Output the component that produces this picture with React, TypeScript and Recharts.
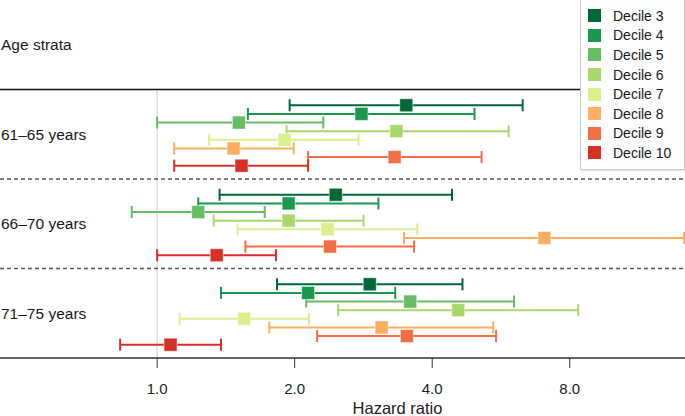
import {
  ComposedChart,
  Scatter,
  ErrorBar,
  XAxis,
  YAxis,
  ReferenceLine,
  Legend,
} from "recharts";

const STRATA = ["61–65 years", "66–70 years", "71–75 years"];
const DECILES = ["Decile 3", "Decile 4", "Decile 5", "Decile 6", "Decile 7", "Decile 8", "Decile 9", "Decile 10"];
const COLORS = ["#006837", "#1a9850", "#66bd63", "#a6d96a", "#d9ef8b", "#fdae61", "#f46d43", "#d73027"];

// hazard ratio + 95% CI per decile, one set per age stratum
const HR_61_65 = [3.51, 2.8, 1.51, 3.34, 1.9, 1.47, 3.31, 1.53];
const LO_61_65 = [1.95, 1.58, 1.0, 1.92, 1.3, 1.09, 2.14, 1.09];
const HI_61_65 = [6.31, 4.95, 2.31, 5.88, 2.76, 1.99, 5.13, 2.14];

const HR_66_70 = [2.46, 1.94, 1.23, 1.94, 2.36, 7.04, 2.39, 1.35];
const LO_66_70 = [1.37, 1.23, 0.88, 1.33, 1.5, 3.47, 1.56, 1.0];
const HI_66_70 = [4.42, 3.05, 1.72, 2.83, 3.71, 14.24, 3.65, 1.82];

const HR_71_75 = [2.92, 2.14, 3.58, 4.56, 1.55, 3.1, 3.52, 1.07];
const LO_71_75 = [1.83, 1.38, 2.12, 2.49, 1.12, 1.76, 2.24, 0.83];
const HI_71_75 = [4.66, 3.32, 6.04, 8.35, 2.15, 5.44, 5.52, 1.38];

const X_TICKS = [1, 2, 4, 8];

const HR = [HR_61_65, HR_66_70, HR_71_75];
const LO = [LO_61_65, LO_66_70, LO_71_75];
const HI = [HI_61_65, HI_66_70, HI_71_75];

// vertical layout: each stratum takes one slot, header takes the first
const SLOT = 10;
const FIRST = 1.76;
const STEP = 0.965;

const seriesFor = (d: number) =>
  STRATA.map((_, s) => {
    const hr = HR[s][d];
    return {
      hr,
      err: [hr - LO[s][d], HI[s][d] - hr],
      row: (s + 1) * SLOT + FIRST + d * STEP,
    };
  });

const FONT = '"Liberation Sans", Arial, Helvetica, sans-serif';

const Square = (props: any) => {
  const { cx, cy, fill } = props;
  if (cx == null || cy == null) return null;
  return (
    <rect
      x={cx - 6.5}
      y={cy - 6.5}
      width={13}
      height={13}
      fill={fill}
      stroke="#ffffff"
      strokeOpacity={0.5}
      strokeWidth={1}
    />
  );
};

const LegendBox = () => (
  <div
    style={{
      background: "#fdfdfd",
      border: "1px solid #c8c8c8",
      boxShadow: "1px 1px 2px rgba(0,0,0,0.15)",
      padding: "6px 0 6px 7px",
      fontFamily: FONT,
      fontSize: 14,
      color: "#1a1a1a",
    }}
  >
    {DECILES.map((name, i) => (
      <div key={name} style={{ display: "flex", alignItems: "center", height: 19.6 }}>
        <span
          style={{
            display: "inline-block",
            width: 13,
            height: 13,
            background: COLORS[i],
            marginRight: 12,
          }}
        />
        {name}
      </div>
    ))}
  </div>
);

export default function App() {
  return (
    <div style={{ position: "absolute", left: 0, top: 0, fontFamily: FONT }}>
      <ComposedChart
        width={685}
        height={416}
        margin={{ top: 0, right: 0, bottom: 0, left: 0 }}
      >
        <XAxis
          dataKey="hr"
          type="number"
          scale="log"
          domain={[0.453, 14.3]}
          allowDataOverflow
          ticks={X_TICKS}
          tickFormatter={(v: number) => v.toFixed(1)}
          height={58}
          tickSize={10}
          tickMargin={15}
          tick={{ fill: "#222", fontSize: 15, fontFamily: FONT }}
          tickLine={{ stroke: "#333" }}
          axisLine={{ stroke: "#333", strokeWidth: 1.3 }}
          label={{
            value: "Hazard ratio",
            position: "insideBottom",
            offset: 2,
            dx: 55,
            fontSize: 16.5,
            fill: "#222",
            fontFamily: FONT,
          }}
        />
        <YAxis
          dataKey="row"
          type="number"
          domain={[0, 4 * SLOT]}
          reversed
          hide
          width={0}
        />
        <ReferenceLine
          segment={[
            { x: 1, y: SLOT },
            { x: 1, y: 4 * SLOT },
          ]}
          stroke="#cfcfcf"
          strokeWidth={1}
        />
        <ReferenceLine y={SLOT} stroke="#111" strokeWidth={1.3} />
        <ReferenceLine y={2 * SLOT} stroke="#555" strokeWidth={1.3} strokeDasharray="4 3" />
        <ReferenceLine y={3 * SLOT} stroke="#555" strokeWidth={1.3} strokeDasharray="4 3" />
        <ReferenceLine
          y={SLOT / 2}
          stroke="none"
          label={{ value: "Age strata", position: "insideLeft", offset: 1, fontSize: 15.5, fill: "#1a1a1a", fontFamily: FONT }}
        />
        {STRATA.map((name, s) => (
          <ReferenceLine
            key={name}
            y={(s + 1.5) * SLOT}
            stroke="none"
            label={{ value: name, position: "insideLeft", offset: 1, fontSize: 15.5, fill: "#1a1a1a", fontFamily: FONT }}
          />
        ))}
        {DECILES.map((name, d) => (
          <Scatter
            key={name}
            name={name}
            data={seriesFor(d)}
            dataKey="row"
            fill={COLORS[d]}
            shape={<Square />}
            isAnimationActive={false}
          >
            <ErrorBar
              dataKey="err"
              direction="x"
              width={6}
              stroke={COLORS[d]}
              strokeWidth={2}
              isAnimationActive={false}
            />
          </Scatter>
        ))}
        <Legend
          layout="vertical"
          align="center"
          verticalAlign="middle"
          content={<LegendBox />}
          wrapperStyle={{ left: 580, top: -1, width: 105, height: 170 }}
        />
      </ComposedChart>
    </div>
  );
}
